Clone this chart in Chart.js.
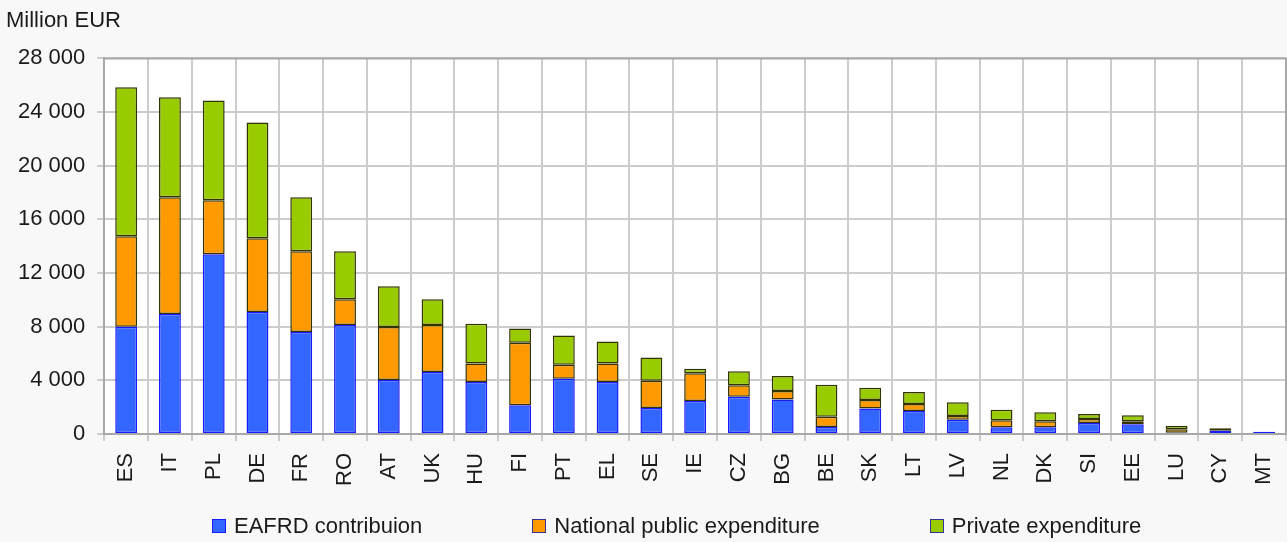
<!DOCTYPE html>
<html>
<head>
<meta charset="utf-8">
<script src="https://cdn.jsdelivr.net/npm/chart.js@4.4.0/dist/chart.umd.min.js"></script>
<style>
  body { margin: 0; background: #f8f8f8; }
  #wrap { position: relative; width: 1287px; height: 542px; background: #f8f8f8; }
  #legend {
    position: absolute; left: 212px; top: 513px;
    display: flex; gap: 110px;
    font-family: "Liberation Sans", Arial, sans-serif; font-size: 22px; color: #1a1a1a;
  }
  #legend .item { display: flex; align-items: center; white-space: nowrap; }
  #legend .box { width: 12px; height: 12px; margin-right: 8px; border: 1px solid; }
</style>
</head>
<body>
<div id="wrap">
  <canvas id="rdpChart" width="1287" height="542"></canvas>
  <div id="legend"></div>
</div>
<script>
// Member states, sorted by total planned expenditure
const countries = ['ES', 'IT', 'PL', 'DE', 'FR', 'RO', 'AT', 'UK', 'HU', 'FI', 'PT', 'EL', 'SE', 'IE',
    'CZ', 'BG', 'BE', 'SK', 'LT', 'LV', 'NL', 'DK', 'SI', 'EE', 'LU', 'CY', 'MT'];

// Million EUR, each series is its own slice of the stack
const eafrd    = [8000, 8950, 13400, 9100, 7600, 8120, 4020, 4620, 3870, 2140, 4120, 3870, 1940, 2460,
    2780, 2580, 520, 1910, 1710, 1070, 500, 500, 820, 720, 100, 220, 160];
const national = [6750, 8700, 4030, 5500, 6030, 1930, 3950, 3500, 1390, 4660, 1040, 1390, 2030, 2060,
    850, 620, 770, 620, 520, 270, 520, 450, 300, 230, 250, 30, 0];
const privateExp = [11100, 7450, 7440, 8630, 4020, 3580, 3050, 1930, 2950, 1070, 2190, 1640, 1740, 340,
    1040, 1120, 2380, 920, 900, 1020, 790, 670, 370, 440, 270, 170, 0];

const yTicks = [0, 4000, 8000, 12000, 16000, 20000, 24000, 28000];

const seriesInfo = [
    { label: 'EAFRD contribuion', data: eafrd, fill: '#3366ff', line: '#1a1aff' },
    { label: 'National public expenditure', data: national, fill: '#ff9900', line: '#333300' },
    { label: 'Private expenditure', data: privateExp, fill: '#99cc00', line: '#333300' }
];

const FONT = '"Liberation Sans", Arial, sans-serif';

// white plot area with a grey frame
const plotArea = {
    id: 'plotArea',
    beforeDraw(chart) {
        const { ctx, chartArea: a } = chart;
        ctx.save();
        ctx.fillStyle = '#ffffff';
        ctx.fillRect(a.left, a.top, a.right - a.left, a.bottom - a.top);
        ctx.restore();
    },
    afterDatasetsDraw(chart) {
        const { ctx, chartArea: a } = chart;
        ctx.save();
        ctx.strokeStyle = '#a8a8a8';
        ctx.lineWidth = 2;
        ctx.beginPath();
        ctx.moveTo(a.left, a.top);
        ctx.lineTo(a.right, a.top);
        ctx.lineTo(a.right, a.bottom);
        ctx.stroke();
        ctx.restore();
    }
};

const fmt = v => String(v).replace(/\B(?=(\d{3})+(?!\d))/g, ' ');

new Chart(document.getElementById('rdpChart').getContext('2d'), {
    type: 'bar',
    data: {
        labels: countries,
        datasets: seriesInfo.map(s => ({
            label: s.label,
            data: s.data,
            backgroundColor: s.fill,
            borderColor: s.line,
            borderWidth: 1.5,
            borderSkipped: false,
            categoryPercentage: 1,
            barPercentage: 0.5
        }))
    },
    options: {
        responsive: false,
        animation: false,
        layout: { padding: { left: 6, right: 1, top: 0, bottom: 44 } },
        plugins: {
            legend: { display: false },
            tooltip: { enabled: false },
            title: {
                display: true,
                text: 'Million EUR',
                align: 'start',
                color: '#1a1a1a',
                font: { family: FONT, size: 22, weight: 'normal' },
                padding: { top: 8, bottom: 24 }
            }
        },
        scales: {
            x: {
                stacked: true,
                afterFit: scale => { scale.paddingLeft = 0; scale.paddingRight = 0; },
                grid: { color: '#cccccc', lineWidth: 2, tickLength: 7 },
                border: { color: '#a8a8a8', width: 2 },
                ticks: {
                    color: '#1a1a1a',
                    font: { family: FONT, size: 22 },
                    minRotation: 90,
                    maxRotation: 90,
                    padding: 12,
                    autoSkip: false
                }
            },
            y: {
                stacked: true,
                min: 0,
                max: 28000,
                afterBuildTicks: axis => { axis.ticks = yTicks.map(v => ({ value: v })); },
                grid: { color: '#cccccc', lineWidth: 2, tickLength: 7 },
                border: { color: '#a8a8a8', width: 2 },
                ticks: {
                    color: '#1a1a1a',
                    font: { family: FONT, size: 22 },
                    padding: 12,
                    callback: v => fmt(v)
                }
            }
        }
    },
    plugins: [plotArea]
});

// legend below the plot
const legend = document.getElementById('legend');
seriesInfo.forEach(s => {
    const item = document.createElement('span');
    item.className = 'item';
    const box = document.createElement('span');
    box.className = 'box';
    box.style.background = s.fill;
    box.style.borderColor = s.fill === '#3366ff' ? '#1a1aff' : '#333399';
    item.appendChild(box);
    item.appendChild(document.createTextNode(s.label));
    legend.appendChild(item);
});
</script>
</body>
</html>
